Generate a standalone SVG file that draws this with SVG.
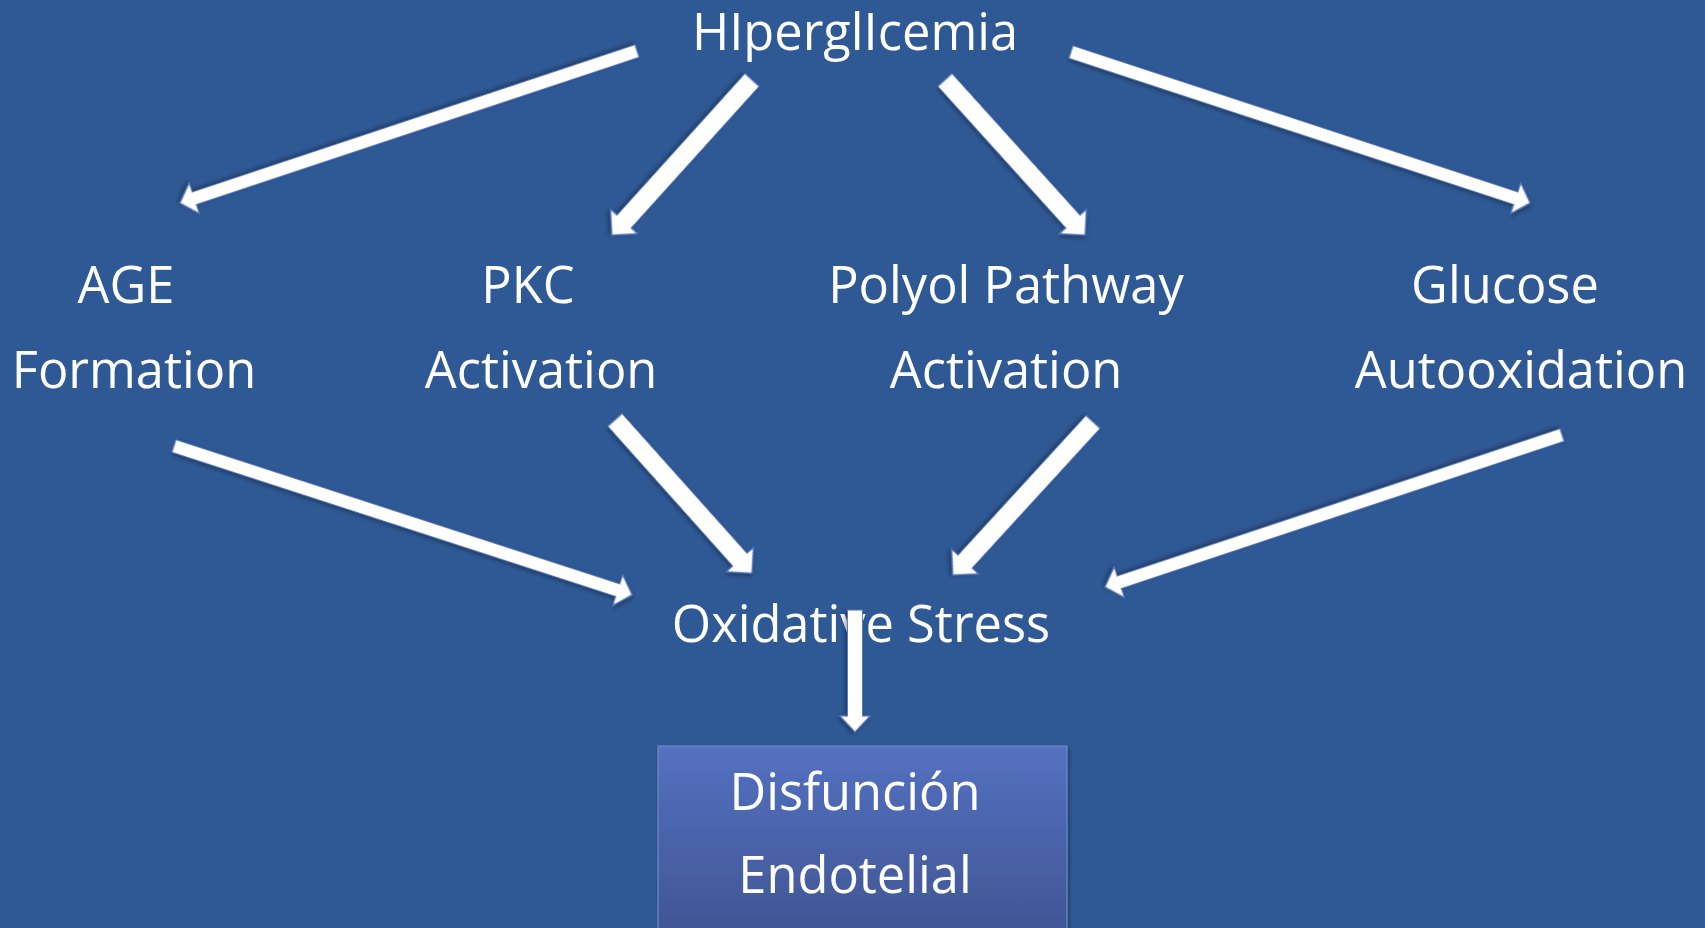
<svg xmlns="http://www.w3.org/2000/svg" width="1705" height="928" viewBox="0 0 1705 928">
  <style>
    .lbl { font-family: "Open Sans", "Liberation Sans", sans-serif; font-size: 50.6px; fill: #ffffff; text-anchor: middle; }
    .arr { fill: #ffffff; stroke: #5b7cc6; stroke-width: 1.2; stroke-linejoin: miter; filter: url(#sh); }
  </style>
  <defs>
    <filter id="sh" x="-20%" y="-20%" width="140%" height="140%">
      <feDropShadow dx="1.5" dy="2" stdDeviation="2" flood-color="#000000" flood-opacity="0.35"/>
    </filter>
    <linearGradient id="boxg" x1="0" y1="0" x2="0" y2="1">
      <stop offset="0" stop-color="#5471c1"/>
      <stop offset="1" stop-color="#3e5390"/>
    </linearGradient>
  </defs>
  <rect x="0" y="0" width="1705" height="928" fill="#2f5994"/>

  <g id="node-hiperglicemia"><text class="lbl" x="855" y="50">HIperglIcemia</text></g>
  <g id="node-age"><text class="lbl" x="126" y="303">AGE</text><text class="lbl" x="134" y="388">Formation</text></g>
  <g id="node-pkc"><text class="lbl" x="528" y="303">PKC</text><text class="lbl" x="541" y="388">Activation</text></g>
  <g id="node-polyol"><text class="lbl" x="1006" y="303">Polyol Pathway</text><text class="lbl" x="1006" y="388">Activation</text></g>
  <g id="node-glucose"><text class="lbl" x="1505" y="303">Glucose</text><text class="lbl" x="1521" y="388">Autooxidation</text></g>
  <g id="node-oxidative"><text class="lbl" x="861" y="642">Oxidative Stress</text></g>
  <g id="node-disfuncion">
    <rect x="658" y="746" width="409" height="200" fill="url(#boxg)" stroke="#6d87c9" stroke-width="1.2" filter="url(#sh)"/>
    <text class="lbl" x="855" y="810">Disfunción</text>
    <text class="lbl" x="855" y="893">Endotelial</text>
  </g>

  <g id="connectors">
    <path class="arr" transform="translate(637,51) rotate(161.6)" d="M0,-6.5 L466.6,-6.5 L466.6,-16 L481.6,0 L466.6,16 L466.6,6.5 L0,6.5 Z"/>
    <path class="arr" transform="translate(1071,52) rotate(18.2)" d="M0,-6.5 L468.2,-6.5 L468.2,-16 L483.2,0 L468.2,16 L468.2,6.5 L0,6.5 Z"/>
    <path class="arr" transform="translate(174,446) rotate(18)" d="M0,-6.5 L466.6,-6.5 L466.6,-16 L481.6,0 L466.6,16 L466.6,6.5 L0,6.5 Z"/>
    <path class="arr" transform="translate(1562,435) rotate(161.6)" d="M0,-6.5 L466.6,-6.5 L466.6,-16 L481.6,0 L466.6,16 L466.6,6.5 L0,6.5 Z"/>
    <path class="arr" transform="translate(752,80) rotate(132.1)" d="M0,-9.5 L190.9,-9.5 L190.9,-18 L208.9,0 L190.9,18 L190.9,9.5 L0,9.5 Z"/>
    <path class="arr" transform="translate(945,80) rotate(47.9)" d="M0,-9.5 L190.9,-9.5 L190.9,-18 L208.9,0 L190.9,18 L190.9,9.5 L0,9.5 Z"/>
    <path class="arr" transform="translate(615,420) rotate(48.2)" d="M0,-9.5 L187.4,-9.5 L187.4,-18 L205.4,0 L187.4,18 L187.4,9.5 L0,9.5 Z"/>
    <path class="arr" transform="translate(1093,422) rotate(132.5)" d="M0,-9.5 L189.4,-9.5 L189.4,-18 L207.4,0 L189.4,18 L189.4,9.5 L0,9.5 Z"/>
    <path class="arr" transform="translate(855,610) rotate(90)" d="M0,-7.5 L106,-7.5 L106,-15 L122,0 L106,15 L106,7.5 L0,7.5 Z"/>
  </g>
</svg>
